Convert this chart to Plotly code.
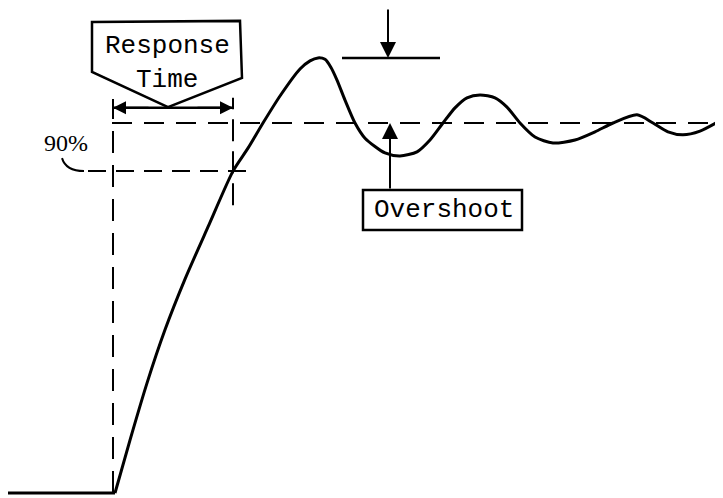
import plotly.graph_objects as go

# Time (arbitrary units) and response (fraction of steady-state value)
t_flat = [8, 115]
v_flat = [0.0, 0.0]
t_rise = [115, 130, 147, 165, 185, 208, 233, 248, 263, 280, 300, 310, 318, 325, 331, 337,
          345, 355, 365, 385, 400, 417, 430, 443, 455, 467, 480, 495, 507, 520, 535, 553,
          575, 595, 613, 637, 653, 668, 683, 700, 718]
v_rise = [0.0, 0.143, 0.297, 0.441, 0.578, 0.719, 0.870, 0.932, 1.0, 1.073, 1.146, 1.168,
          1.176, 1.172, 1.150, 1.116, 1.062, 1.0, 0.959, 0.919, 0.911, 0.922, 0.954, 1.0,
          1.041, 1.068, 1.076, 1.068, 1.043, 1.0, 0.962, 0.946, 0.954, 0.976, 1.0, 1.022,
          1.0, 0.976, 0.968, 0.978, 1.003]

steady = 1.0
ninety = 0.870
peak = 1.176
t_start = 113
t_resp = 233
labels = {"resp1": "Response", "resp2": "Time", "pct": "90%", "over": "Overshoot"}

MONO = "Liberation Mono, Courier New, monospace"
SERIF = "Liberation Serif, Times New Roman, serif"
K = "black"

fig = go.Figure()
fig.add_trace(go.Scatter(x=t_flat, y=v_flat, mode="lines", line=dict(color=K, width=3.2),
                         hoverinfo="skip", showlegend=False))
fig.add_trace(go.Scatter(x=t_rise, y=v_rise, mode="lines",
                         line=dict(color=K, width=3, shape="spline", smoothing=0.7),
                         hoverinfo="skip", showlegend=False))

shapes = [
    # steady-state dashed line
    dict(type="line", x0=112, x1=718, y0=steady, y1=steady, line=dict(color=K, width=2, dash="20px,12px")),
    # 90% dashed line
    dict(type="line", x0=88, x1=252, y0=ninety, y1=ninety, line=dict(color=K, width=2, dash="18px,10px")),
    # curl leader from 90%
    dict(type="path", path=f"M 62,0.905 Q 66,{ninety} 84,{ninety}", line=dict(color=K, width=2)),
    # vertical dashed lines
    dict(type="line", x0=t_start, x1=t_start, y0=0.0, y1=1.065, line=dict(color=K, width=2, dash="22px,12px")),
    dict(type="line", x0=t_resp, x1=t_resp, y0=0.778, y1=1.068, line=dict(color=K, width=2, dash="22px,10px")),
    # response time double arrow line
    dict(type="line", x0=t_start, x1=t_resp, y0=1.041, y1=1.041, line=dict(color=K, width=2.5)),
    # pentagon callout
    dict(type="path", path="M 92,1.273 L 240,1.276 L 242,1.122 L 168,1.043 L 92,1.138 Z",
         line=dict(color=K, width=2.5), fillcolor="white"),
    # overshoot top reference line
    dict(type="line", x0=342, x1=440, y0=peak, y1=peak, line=dict(color=K, width=2.5)),
    # overshoot box
    dict(type="rect", x0=363, x1=522, y0=0.711, y1=0.819, line=dict(color=K, width=2.5),
         fillcolor="white"),
]

annotations = [
    dict(x=167, y=1.208, text=labels["resp1"], showarrow=False, font=dict(family=MONO, size=26, color=K)),
    dict(x=167, y=1.117, text=labels["resp2"], showarrow=False, font=dict(family=MONO, size=26, color=K)),
    dict(x=66, y=0.945, text=labels["pct"], showarrow=False, font=dict(family=SERIF, size=24, color=K)),
    dict(x=444, y=0.766, text=labels["over"], showarrow=False, font=dict(family=MONO, size=26, color=K)),
    # response-time arrowheads
    dict(x=t_start, y=1.041, ax=150, ay=1.041, axref="x", ayref="y", xref="x", yref="y",
         showarrow=True, arrowhead=2, arrowsize=1.3, arrowwidth=2, arrowcolor=K, text=""),
    dict(x=t_resp, y=1.041, ax=196, ay=1.041, axref="x", ayref="y", xref="x", yref="y",
         showarrow=True, arrowhead=2, arrowsize=1.3, arrowwidth=2, arrowcolor=K, text=""),
    # overshoot arrows
    dict(x=388, y=peak, ax=388, ay=1.311, axref="x", ayref="y", xref="x", yref="y",
         showarrow=True, arrowhead=2, arrowsize=1.6, arrowwidth=2, arrowcolor=K, text=""),
    dict(x=390, y=steady, ax=390, ay=0.819, axref="x", ayref="y", xref="x", yref="y",
         showarrow=True, arrowhead=2, arrowsize=1.6, arrowwidth=2, arrowcolor=K, text=""),
]

# page body has an 8px margin, so the figure is 8px smaller and the ranges start at 8px
fig.update_layout(
    width=715, height=490, margin=dict(l=0, r=0, t=0, b=0),
    paper_bgcolor="white", plot_bgcolor="white",
    shapes=shapes, annotations=annotations, showlegend=False,
    xaxis=dict(range=[8, 723], visible=False, fixedrange=True),
    yaxis=dict(range=[-0.0135, 1.3108], visible=False, fixedrange=True),
)
fig.write_html("out.html")
